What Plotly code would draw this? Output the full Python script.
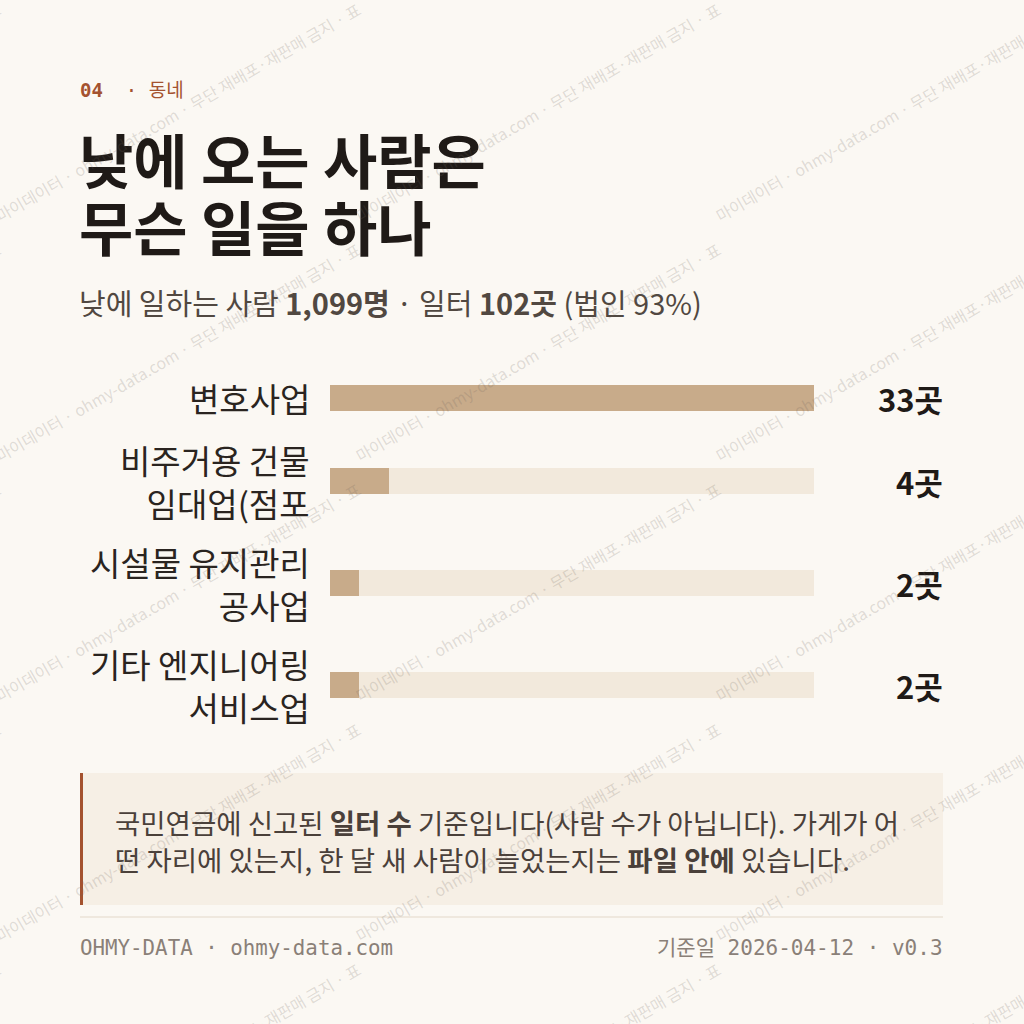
import plotly.graph_objects as go

# ---- data ----
categories = ["변호사업", "비주거용 건물<br>임대업(점포", "시설물 유지관리<br>공사업", "기타 엔지니어링<br>서비스업"]
counts = [33, 4, 2, 2]
value_labels = ["33곳", "4곳", "2곳", "2곳"]
kicker = "04"
kicker_topic = "동네"
title_lines = ["낮에 오는 사람은", "무슨 일을 하나"]
note_lines = [
    "국민연금에 신고된 <b>일터 수</b> 기준입니다(사람 수가 아닙니다). 가게가 어",
    "떤 자리에 있는지, 한 달 새 사람이 늘었는지는 <b>파일 안에</b> 있습니다.",
]
footer_left = "OHMY-DATA · ohmy-data.com"
footer_right = "기준일 2026-04-12 · v0.3"
watermark = "마이데이터 · ohmy-data.com · 무단 재배포·재판매 금지 · 표"

W = H = 1024
BG = "#fbf8f3"
RUST = "#a4522f"
INK = "#1f1a17"
BAR = "#c8ab8a"
TRACK = "#f2e9dc"
KR = "Noto Sans CJK KR"
MONO = "DejaVu Sans Mono"

def px(x):
    return x / W

def py(y):
    return 1 - y / H

# row layout (pixel y centres) derived from the number of label lines
centers = []
top = 366
for c in categories:
    n = c.count("<br>") + 1
    h = 26 + 38 * n
    centers.append(top + h / 2)
    top += h

track_max = max(counts)

fig = go.Figure()
fig.add_trace(go.Bar(
    y=centers, x=[track_max] * len(counts), orientation="h", width=26,
    marker=dict(color=TRACK, line=dict(width=0)), hoverinfo="skip", showlegend=False,
))
fig.add_trace(go.Bar(
    y=centers, x=counts, orientation="h", width=26,
    marker=dict(color=BAR, line=dict(width=0)), showlegend=False,
))

ann = []
# kicker
ann.append(dict(x=px(78), y=py(90), xref="paper", yref="paper", xanchor="left", yanchor="middle",
                text=f"<b>{kicker}</b>  · {kicker_topic}", showarrow=False,
                font=dict(family=MONO + ", " + KR, size=19, color=RUST)))
# title
for i, t in enumerate(title_lines):
    ann.append(dict(x=px(77), y=py(158 + 67 * i), xref="paper", yref="paper", xanchor="left", yanchor="middle",
                    text=f"<b>{t}</b>", showarrow=False,
                    font=dict(family=KR, size=59, color=INK)))
# subtitle
ann.append(dict(x=px(77), y=py(302), xref="paper", yref="paper", xanchor="left", yanchor="middle",
                text="낮에 일하는 사람 <b>1,099명</b> · 일터 <b>102곳</b> (법인 93%)", showarrow=False,
                font=dict(family=KR, size=29, color="#514841")))
# category labels and value labels
for c, yc, v in zip(categories, centers, value_labels):
    ann.append(dict(x=px(312), y=py(yc), xref="paper", yref="paper", xanchor="right", yanchor="middle",
                    text=c, showarrow=False, align="right",
                    font=dict(family=KR, size=33, color="#2a2420")))
    ann.append(dict(x=px(945), y=py(yc), xref="paper", yref="paper", xanchor="right", yanchor="middle",
                    text=f"<b>{v}</b>", showarrow=False,
                    font=dict(family=KR, size=31, color=INK)))
# note
for i, t in enumerate(note_lines):
    ann.append(dict(x=px(113), y=py(822 + 37 * i), xref="paper", yref="paper", xanchor="left", yanchor="middle",
                    text=t, showarrow=False,
                    font=dict(family=KR, size=27.5, color="#4a403a")))
# footer
ann.append(dict(x=px(78), y=py(948), xref="paper", yref="paper", xanchor="left", yanchor="middle",
                text=footer_left, showarrow=False,
                font=dict(family=MONO, size=20.8, color="#8a8078")))
ann.append(dict(x=px(945), y=py(948), xref="paper", yref="paper", xanchor="right", yanchor="middle",
                text=footer_right, showarrow=False,
                font=dict(family=MONO + ", " + KR, size=21, color="#8a8078")))
# watermark tiles
for y0 in [215, 455, 695, 935, 1175]:
    for x0 in [-360, 0, 360, 720]:
        ann.append(dict(x=px(x0 + 178), y=py(y0 - 103), xref="paper", yref="paper",
                        xanchor="center", yanchor="middle", textangle=-30,
                        text=watermark, showarrow=False,
                        font=dict(family=KR, size=16, color="rgba(110,100,90,0.2)")))

shapes = [
    dict(type="rect", xref="paper", yref="paper", x0=px(80), x1=px(943), y0=py(905), y1=py(773),
         fillcolor="#f6efe5", line=dict(width=0), layer="below"),
    dict(type="rect", xref="paper", yref="paper", x0=px(80), x1=px(83), y0=py(905), y1=py(773),
         fillcolor=RUST, line=dict(width=0), layer="below"),
    dict(type="line", xref="paper", yref="paper", x0=px(80), x1=px(943), y0=py(917), y1=py(917),
         line=dict(color="#ebe3d7", width=1.5)),
]

fig.update_layout(
    width=W, height=H, margin=dict(l=0, r=0, t=0, b=0),
    paper_bgcolor=BG, plot_bgcolor="rgba(0,0,0,0)",
    barmode="overlay", bargap=0,
    xaxis=dict(domain=[px(330), px(814)], range=[0, track_max], visible=False, fixedrange=True),
    yaxis=dict(domain=[0, 1], range=[H, 0], visible=False, fixedrange=True),
    annotations=ann, shapes=shapes,
)

fig.write_html("out.html", config={"displayModeBar": False},
               post_script="document.body.style.margin='0';document.body.style.overflow='hidden';")
